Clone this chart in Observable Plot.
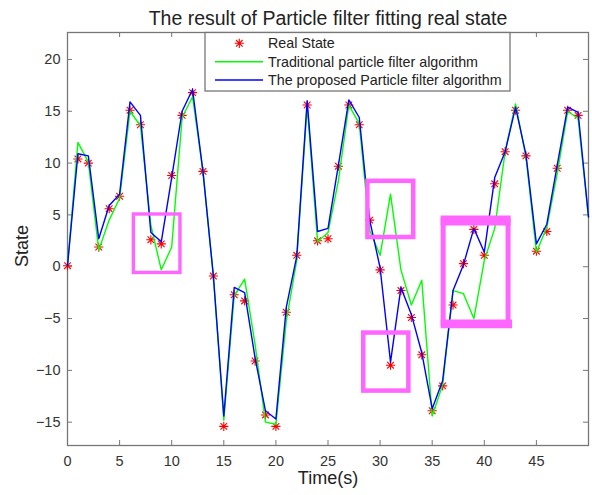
<!DOCTYPE html>
<html><head><meta charset="utf-8">
<script src="https://cdn.jsdelivr.net/npm/d3@7"></script>
<script src="https://cdn.jsdelivr.net/npm/@observablehq/plot@0.6"></script>
<style>body{margin:0;background:#fff}svg{display:block}</style>
</head><body><div id="chart"></div>
<script>
const titleText = "The result of Particle filter fitting real state";
const xLabel = "Time(s)";
const yLabel = "State";
const seriesNames = ["Real State", "Traditional particle filter algorithm", "The proposed Particle filter algorithm"];

const realState = [0.1, 10.4, 10.0, 1.9, 5.6, 6.8, 15.1, 13.7, 2.6, 2.2,
  8.8, 14.6, 16.8, 9.2, -0.9, -15.4, -2.7, -3.3, -9.1, -14.3,
  -15.4, -4.4, 1.1, 15.6, 2.5, 2.7, 9.7, 15.6, 13.7, 4.5,
  -0.3, -9.5, -2.3, -4.9, -8.5, -13.9, -11.5, -3.7, 0.3, 3.6,
  1.1, 8.0, 11.1, 15.1, 10.7, 1.5, 3.4, 9.5, 15.1, 14.6];
const traditionalPF = [0.1, 12.0, 10.1, 1.6, 4.5, 6.6, 15.0, 13.6, 4.0, -0.3,
  1.9, 14.4, 16.4, 9.2, -0.9, -14.8, -2.8, -1.2, -7.5, -15.0,
  -15.2, -5.2, 0.6, 15.5, 2.4, 3.3, 8.3, 15.6, 13.8, 3.5,
  1.1, 7.0, -0.3, -3.7, -1.3, -14.4, -11.4, -2.3, -2.6, -5.0,
  0.6, 3.7, 11.1, 15.7, 10.6, 1.4, 3.8, 9.0, 15.0, 14.3, 4.8];
const proposedPF = [0.1, 10.9, 10.7, 2.7, 5.9, 7.0, 15.9, 14.6, 3.3, 2.4,
  8.6, 15.0, 17.1, 9.2, -0.9, -14.4, -2.0, -2.5, -8.8, -13.9,
  -14.7, -3.9, 1.0, 16.0, 3.4, 3.7, 9.8, 16.1, 14.4, 4.5,
  -0.1, -9.2, -2.0, -4.6, -8.3, -13.7, -11.0, -2.3, 0.2, 3.7,
  1.4, 8.6, 11.1, 15.4, 10.8, 2.2, 4.1, 9.8, 15.4, 14.9, 4.8];

const xTicks = [0, 5, 10, 15, 20, 25, 30, 35, 40, 45];
const yTicks = [-15, -10, -5, 0, 5, 10, 15, 20];

// highlight boxes (data coordinates)
const boxX1 = [6.37, 28.83, 28.43, 36.1];
const boxX2 = [10.84, 33.23, 32.76, 42.33];
const boxY1 = [-0.6, 2.82, -12.0, -5.51];
const boxY2 = [5.04, 8.24, -6.4, 4.46];

const realRows = realState.map((v, i) => ({t: i, v}));
const tradRows = traditionalPF.map((v, i) => ({t: i, v}));
const propRows = proposedPF.map((v, i) => ({t: i, v}));
const boxes = boxX1.map((x1, i) => ({x1, x2: boxX2[i], y1: boxY1[i], y2: boxY2[i]}));

const W = 592, H = 495, mL = 67, mR = 4, mT = 32, mB = 50;
const pw = W - mL - mR, ph = H - mT - mB;
const font = "'Liberation Sans', Arial, sans-serif";
const axisColor = "#777";
const magenta = "#ff66ff";

const asterisk = {
  draw(ctx, size) {
    const r = Math.sqrt(size / Math.PI), k = r * 0.72;
    ctx.moveTo(-r, 0); ctx.lineTo(r, 0);
    ctx.moveTo(0, -r); ctx.lineTo(0, r);
    ctx.moveTo(-k, -k); ctx.lineTo(k, k);
    ctx.moveTo(-k, k); ctx.lineTo(k, -k);
  }
};

const svg = Plot.plot({
  width: W, height: H,
  marginLeft: mL, marginRight: mR, marginTop: mT, marginBottom: mB,
  style: {fontFamily: font, background: "#fff", color: "#333"},
  x: {domain: [0, 50]},
  y: {domain: [-17.25, 22.6]},
  marks: [
    Plot.frame({stroke: axisColor, strokeWidth: 1.3}),
    Plot.tickX(xTicks, {x: d => d, insetTop: ph - 5, stroke: axisColor}),
    Plot.tickX(xTicks, {x: d => d, insetBottom: ph - 5, stroke: axisColor}),
    Plot.tickY(yTicks, {y: d => d, insetRight: pw - 5, stroke: axisColor}),
    Plot.tickY(yTicks, {y: d => d, insetLeft: pw - 5, stroke: axisColor}),
    Plot.axisX(xTicks, {tickSize: 0, tickPadding: 10, fontSize: 14.5, fill: "#333", label: null}),
    Plot.axisY(yTicks, {tickSize: 0, tickPadding: 7, fontSize: 14.5, fill: "#333", label: null}),
    Plot.dot(realRows, {x: "t", y: "v", symbol: asterisk, r: 4.6, stroke: "#ff0000", strokeWidth: 1.1}),
    Plot.line(tradRows, {x: "t", y: "v", stroke: "#00ff00", strokeWidth: 1.4}),
    Plot.line(propRows, {x: "t", y: "v", stroke: "#0000ff", strokeWidth: 1.4}),
    Plot.rect(boxes.slice(0, 1), {x1: "x1", x2: "x2", y1: "y1", y2: "y2", fill: "none", stroke: magenta, strokeWidth: 3.4}),
    Plot.rect(boxes.slice(1, 3), {x1: "x1", x2: "x2", y1: "y1", y2: "y2", fill: "none", stroke: magenta, strokeWidth: 4.5}),
    Plot.rect(boxes.slice(3), {x1: "x1", x2: "x2", y1: "y1", y2: "y2", fill: "none", stroke: magenta, strokeWidth: 5}),
    Plot.ruleY(boxes.slice(3), {y: "y2", x1: "x1", x2: "x2", stroke: magenta, strokeWidth: 10, insetLeft: -2.5, insetRight: -2.5}),
    Plot.ruleY(boxes.slice(3), {y: "y1", x1: "x1", x2: "x2", stroke: magenta, strokeWidth: 8.7, insetLeft: -2.5, insetRight: -4}),
    Plot.text([titleText], {text: d => d, frameAnchor: "top", dy: -21, fontSize: 19.5, fill: "#222"}),
    Plot.text([xLabel], {text: d => d, frameAnchor: "bottom", dy: 38, fontSize: 18, fill: "#222"})
  ]
});

// y label
d3.select(svg).append("text")
  .attr("transform", "translate(22,246) rotate(-90)")
  .attr("text-anchor", "middle").attr("dy", "0.35em")
  .attr("font-family", font).attr("font-size", 18).attr("fill", "#222")
  .text(yLabel);

// legend
const lg = d3.select(svg).append("g").attr("font-family", font).attr("font-size", 14.3)
  .attr("fill", "#222").attr("text-anchor", "start");
lg.append("rect").attr("x", 205).attr("y", 32.5).attr("width", 305).attr("height", 58.5)
  .attr("fill", "#fff").attr("stroke", axisColor).attr("stroke-width", 1.3);
const rowsY = [43.3, 61.7, 80];
const starPath = d3.symbol(asterisk, Math.PI * 4.6 * 4.6)();
lg.append("path").attr("d", starPath).attr("transform", `translate(239.3,${rowsY[0]})`)
  .attr("stroke", "#ff0000").attr("stroke-width", 1.1).attr("fill", "none");
lg.append("line").attr("x1", 215).attr("x2", 263).attr("y1", rowsY[1]).attr("y2", rowsY[1]).attr("stroke", "#00ff00").attr("stroke-width", 1.4);
lg.append("line").attr("x1", 215).attr("x2", 263).attr("y1", rowsY[2]).attr("y2", rowsY[2]).attr("stroke", "#0000ff").attr("stroke-width", 1.4);
seriesNames.forEach((n, i) => {
  lg.append("text").attr("x", 268).attr("y", rowsY[i]).attr("dy", "0.35em").attr("text-anchor", "start").text(n);
});

document.getElementById("chart").appendChild(svg);
</script>
</body></html>
